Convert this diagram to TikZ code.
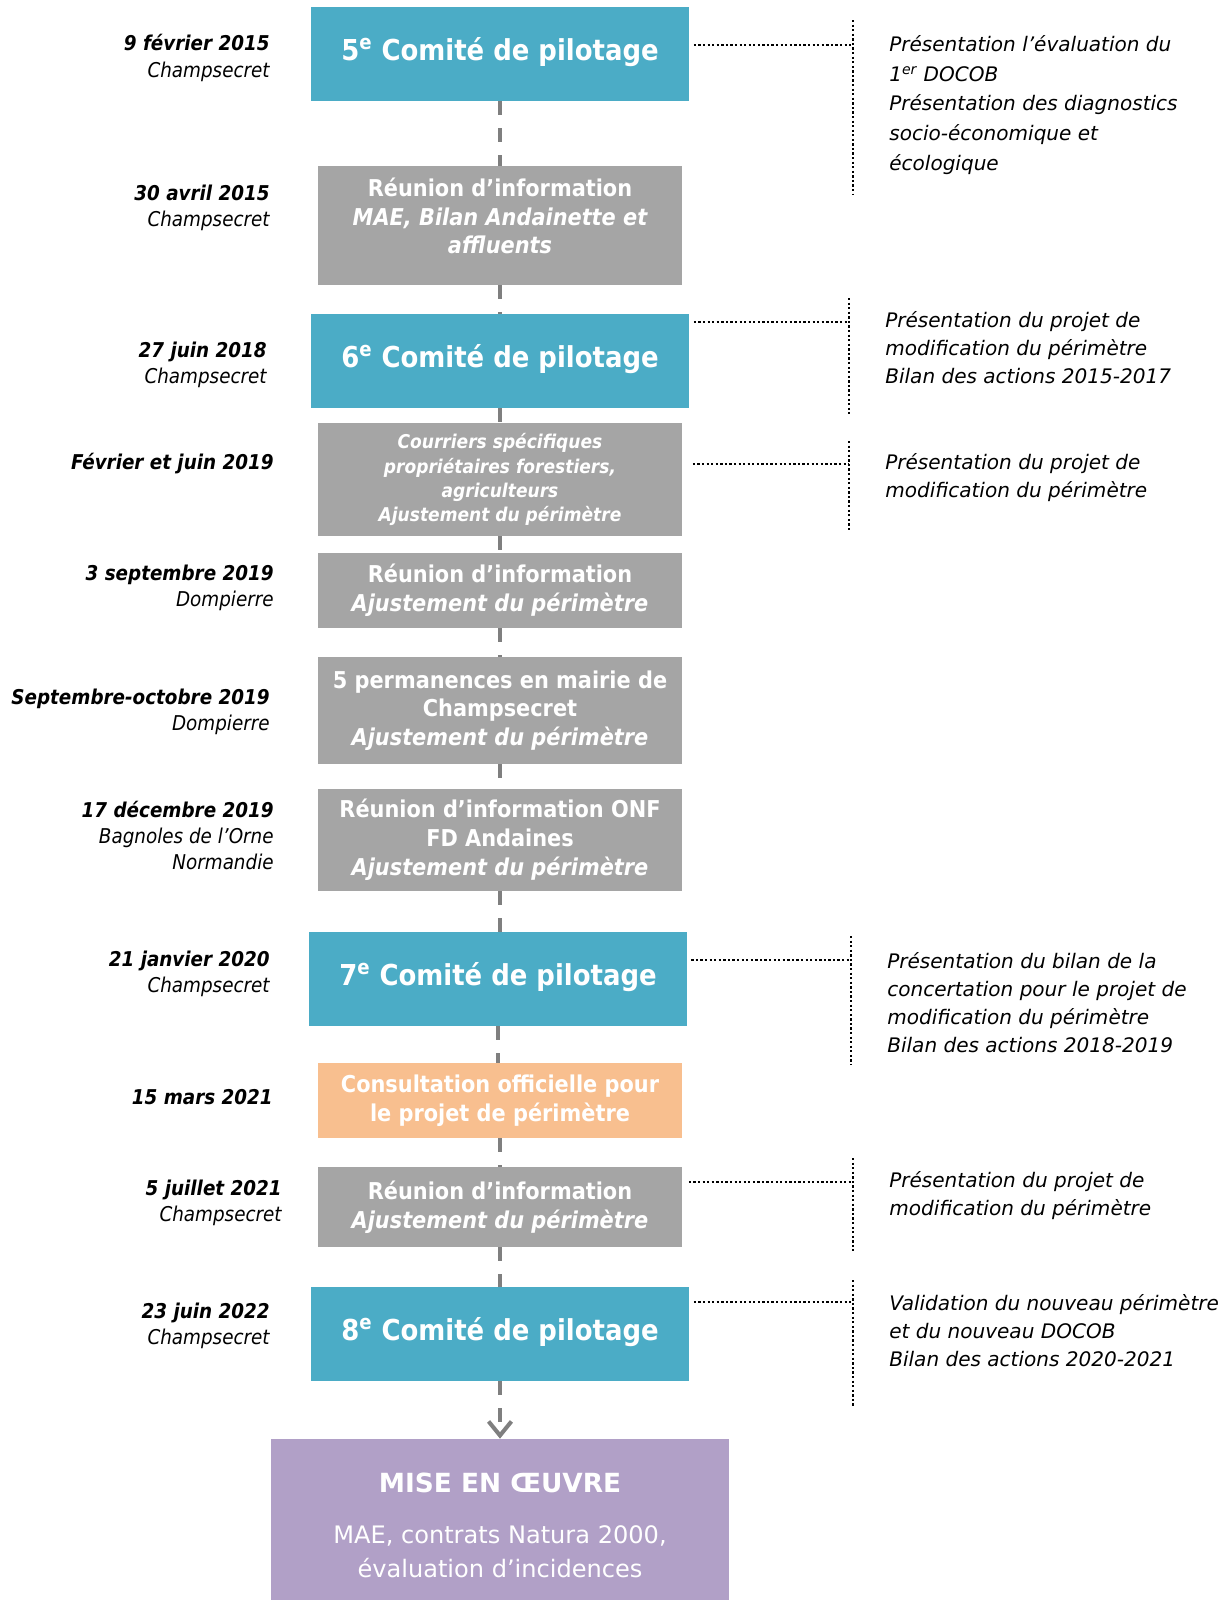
\documentclass[tikz,border=0pt]{standalone}
\usepackage{fontspec}
\setmainfont{DejaVu Sans}
\newfontfamily\condfont[FakeStretch=0.9]{DejaVu Sans}
\usetikzlibrary{arrows.meta}

\definecolor{copilblue}{HTML}{4BACC6}
\definecolor{meetgrey}{HTML}{A5A5A5}
\definecolor{consultorange}{HTML}{F8BF8F}
\definecolor{finalpurple}{HTML}{B1A0C7}
\definecolor{linkgrey}{HTML}{7F7F7F}

\begin{document}
\begin{tikzpicture}[x=0.02cm, y=-0.02cm,
  box/.style={inner sep=0pt, align=center, text=white,
    font=\condfont\bfseries\fontsize{13.2pt}{16.4pt}\selectfont},
  copil/.style={box, fill=copilblue, minimum width=7.58cm, minimum height=1.88cm,
    font=\condfont\bfseries\fontsize{16.4pt}{19pt}\selectfont, text depth=6pt},
  meeting/.style={box, fill=meetgrey, minimum width=7.3cm},
  consult/.style={box, fill=consultorange, minimum width=7.3cm, minimum height=1.5cm},
  final/.style={inner sep=0pt, align=center, text=white, fill=finalpurple,
    minimum width=9.16cm, minimum height=3.22cm, font=\fontsize{13.7pt}{19.3pt}\selectfont},
  date/.style={anchor=east, align=right, inner sep=0pt,
    font=\condfont\itshape\fontsize{11.6pt}{14.9pt}\selectfont},
  note/.style={anchor=west, align=left, inner sep=0pt,
    font=\itshape\fontsize{11.4pt}{15.9pt}\selectfont},
  link/.style={draw=linkgrey, line width=2.3pt, dash pattern=on 8pt off 7.4pt},
  dotline/.style={draw=black, line width=1.5pt, dash pattern=on 1.3pt off 1.3pt}]

  \useasboundingbox (0,0) rectangle (1224,1600);

  % Boxes
  \node[copil] (copil5) at (500,54) {5\textsuperscript{e} Comité de pilotage};
  \node[meeting, minimum height=2.38cm, text depth=11pt] (info15) at (500,225.5)
    {Réunion d’information\\ \itshape MAE, Bilan Andainette et\\ \itshape affluents};
  \node[copil] (copil6) at (500,361) {6\textsuperscript{e} Comité de pilotage};
  \node[meeting, minimum height=2.26cm, font=\condfont\bfseries\itshape\fontsize{10.8pt}{13.7pt}\selectfont] (mail19) at (500,479.5)
    {Courriers spécifiques\\ propriétaires forestiers,\\ agriculteurs\\ Ajustement du périmètre};
  \node[meeting, minimum height=1.5cm] (info19) at (500,590.5)
    {Réunion d’information\\ \itshape Ajustement du périmètre};
  \node[meeting, minimum height=2.14cm] (perm19) at (500,710.5)
    {5 permanences en mairie de\\ Champsecret\\ \itshape Ajustement du périmètre};
  \node[meeting, minimum height=2.04cm] (onf19) at (500,840)
    {Réunion d’information ONF\\ FD Andaines\\ \itshape Ajustement du périmètre};
  \node[copil, minimum width=7.56cm] (copil7) at (498,979) {7\textsuperscript{e} Comité de pilotage};
  \node[consult] (consult21) at (500,1100.5) {Consultation officielle pour\\ le projet de périmètre};
  \node[meeting, minimum height=1.6cm] (info21) at (500,1207)
    {Réunion d’information\\ \itshape Ajustement du périmètre};
  \node[copil] (copil8) at (500,1334) {8\textsuperscript{e} Comité de pilotage};
  \node[final, text height=66pt] (final) at (500,1519.5)
    {{\fontsize{15pt}{18pt}\selectfont\bfseries MISE EN ŒUVRE}\\[9.6pt] MAE, contrats Natura 2000,\\ évaluation d’incidences};

  % Dates
  \node[date] (d5) at (270,58) {\bfseries 9 février 2015\\ Champsecret};
  \node[date] (d15) at (270,208) {\bfseries 30 avril 2015\\ Champsecret};
  \node[date] (d6) at (267,365) {\bfseries 27 juin 2018\\ Champsecret};
  \node[date] (dmail) at (274,464) {\bfseries Février et juin 2019};
  \node[date] (dinfo) at (274,587.5) {\bfseries 3 septembre 2019\\ Dompierre};
  \node[date] (dperm) at (270,712) {\bfseries Septembre-octobre 2019\\ Dompierre};
  \node[date] (donf) at (274,835.5) {\bfseries 17 décembre 2019\\ Bagnoles de l’Orne\\ Normandie};
  \node[date] (d7) at (270,974) {\bfseries 21 janvier 2020\\ Champsecret};
  \node[date] (dcons) at (273,1097) {\bfseries 15 mars 2021};
  \node[date] (d21) at (282,1202.5) {\bfseries 5 juillet 2021\\ Champsecret};
  \node[date] (d8) at (270,1326) {\bfseries 23 juin 2022\\ Champsecret};

  % Notes
  \node[note, font=\itshape\fontsize{11.4pt}{17pt}\selectfont] (n5) at (889,105)
    {Présentation l’évaluation du\\ 1\textsuperscript{er} DOCOB\\ Présentation des diagnostics\\ socio-économique et\\ écologique};
  \node[note] (n6) at (885,348)
    {Présentation du projet de\\ modification du périmètre\\ Bilan des actions 2015-2017};
  \node[note] (nmail) at (885,478)
    {Présentation du projet de\\ modification du périmètre};
  \node[note] (n7) at (887,1003)
    {Présentation du bilan de la\\ concertation pour le projet de\\ modification du périmètre\\ Bilan des actions 2018-2019};
  \node[note] (n21) at (889,1196)
    {Présentation du projet de\\ modification du périmètre};
  \node[note] (n8) at (889,1331)
    {Validation du nouveau périmètre\\ et du nouveau DOCOB\\ Bilan des actions 2020-2021};

  % Brackets
  \coordinate (b5) at (853,45);
  \coordinate (b6) at (849,322);
  \coordinate (bmail) at (849,464);
  \coordinate (b7) at (851,960);
  \coordinate (b21) at (853,1182);
  \coordinate (b8) at (853,1302);
  \draw[dotline] (853,20) -- (853,194);
  \draw[dotline] (849,298) -- (849,416);
  \draw[dotline] (849,441) -- (849,531);
  \draw[dotline] (851,936) -- (851,1064);
  \draw[dotline] (853,1158) -- (853,1251);
  \draw[dotline] (853,1280) -- (853,1406);
  \draw[dotline, shorten <=0.08cm] (copil5.east |- b5) -- (b5);
  \draw[dotline, shorten <=0.08cm] (copil6.east |- b6) -- (b6);
  \draw[dotline, shorten <=0.2cm] (mail19.east |- bmail) -- (bmail);
  \draw[dotline, shorten <=0.08cm] (copil7.east |- b7) -- (b7);
  \draw[dotline, shorten <=0.12cm] (info21.east |- b21) -- (b21);
  \draw[dotline, shorten <=0.08cm] (copil8.east |- b8) -- (b8);

  % Links
  \draw[link] (copil5) -- (info15);
  \draw[link] (info15) -- (copil6);
  \draw[link] (copil6) -- (mail19);
  \draw[link] (mail19) -- (info19);
  \draw[link] (info19) -- (perm19);
  \draw[link] (perm19) -- (onf19);
  \draw[link] (onf19.south) -- (onf19.south |- copil7.north);
  \draw[link] (copil7.south) -- (copil7.south |- consult21.north);
  \draw[link] (consult21) -- (info21);
  \draw[link] (info21) -- (copil8);
  \draw[link, -{Straight Barb[length=8pt, width=13pt]}] (copil8) -- (final);

\end{tikzpicture}
\end{document}
